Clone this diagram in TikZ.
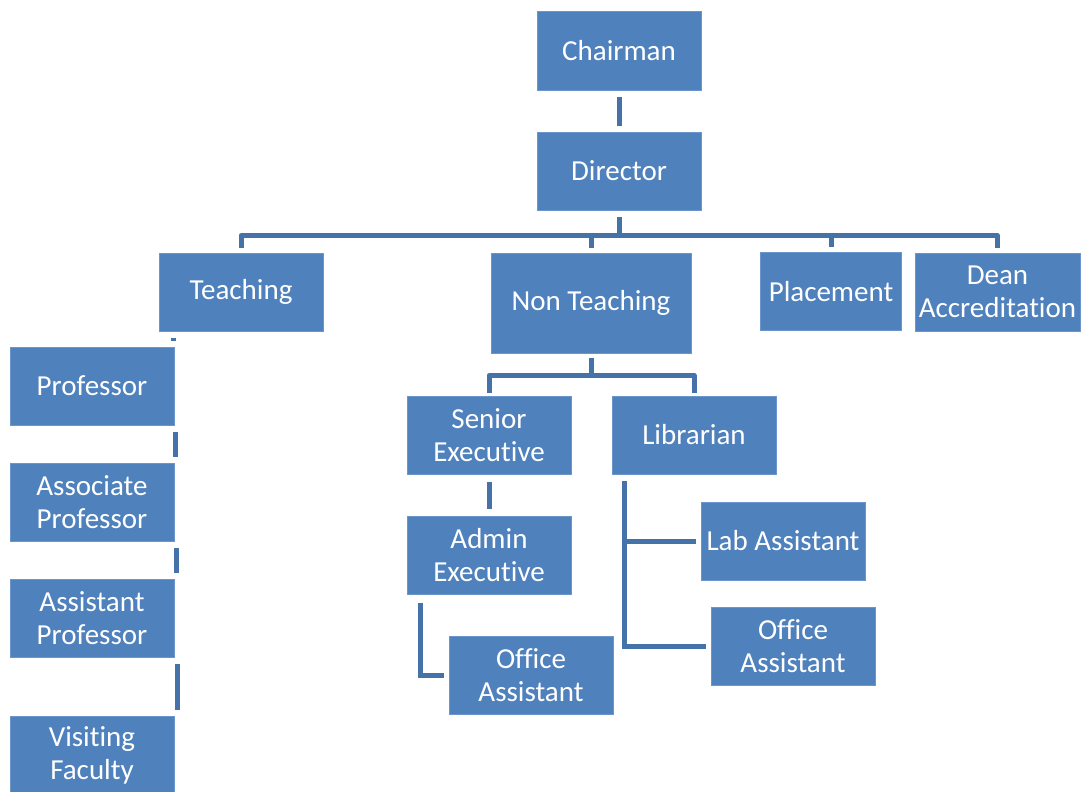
\documentclass[tikz,border=0pt]{standalone}
\usepackage{fontspec}
\setmainfont{Carlito}[Ligatures={NoCommon}]
\definecolor{boxblue}{HTML}{4F81BD}
\definecolor{boxedge}{HTML}{6B96CB}
\definecolor{linkblue}{HTML}{4672AA}
\tikzset{
  orgbox/.style={fill=boxblue, draw=boxedge, line width=1pt, text=white, align=center,
    minimum width=164pt, minimum height=78pt, inner sep=2pt,
    font=\fontsize{29}{33}\selectfont},
  conn/.style={draw=linkblue, line width=5pt},
}
\begin{document}
\begin{tikzpicture}[x=1pt,y=-1pt]
\useasboundingbox (0,0) rectangle (1081,792);
% boxes
\node[orgbox] (chair) at (619,51) {Chairman};
\node[orgbox] (dir) at (619,171) {Director};
\node[orgbox] (teach) at (241,292) {Teaching};
\node[orgbox, minimum width=200pt, minimum height=100pt] (nonteach) at (591,303) {Non Teaching};
\node[orgbox, minimum width=141pt] (place) at (831,291.5) {Placement};
\node[orgbox, minimum width=165pt] (dean) at (997.5,292) {Dean\\Accreditation};
\node[orgbox] (prof) at (92,386) {Professor};
\node[orgbox] (assoc) at (92,502) {Associate\\Professor};
\node[orgbox] (assist) at (92,618) {Assistant\\Professor};
\node[orgbox] (visit) at (92,755) {Visiting\\Faculty};
\node[orgbox] (senior) at (489,435) {Senior\\Executive};
\node[orgbox] (lib) at (694,435) {Librarian};
\node[orgbox] (admin) at (489,555) {Admin\\Executive};
\node[orgbox] (offa) at (531,675) {Office\\Assistant};
\node[orgbox] (lab) at (783,541) {Lab Assistant};
\node[orgbox] (offb) at (793,646) {Office\\Assistant};
% chairman - director
\draw[conn] ([shift={(0,6)}]chair.south) -- ([shift={(0,-6)}]dir.north);
% director bus
\coordinate (dbus) at ([shift={(0,25)}]dir.south);
\draw[conn] ([shift={(0,6)}]dir.south) -- (dbus);
\draw[conn, line join=round] ([shift={(0,-5)}]teach.north) |- (dbus) -| ([shift={(0,-5)}]dean.north);
\draw[conn] ([shift={(0,-5)}]nonteach.north) -- (nonteach.north |- dbus);
\draw[conn] ([shift={(0,-5)}]place.north) -- (place.north |- dbus);
% non teaching bus
\coordinate (nbus) at ([shift={(0,22)}]nonteach.south);
\draw[conn] ([shift={(0,4)}]nonteach.south) -- (nbus);
\draw[conn, line join=round] ([shift={(0,-3)}]senior.north) |- (nbus) -| ([shift={(0,-3)}]lib.north);
% senior - admin
\draw[conn] ([shift={(0,7)}]senior.south) -- ([shift={(0,-7)}]admin.north);
% admin - office assistant
\draw[conn] ([shift={(14,8)}]admin.south west) |- ([shift={(-5,0)}]offa.west);
% librarian branches
\coordinate (lt) at ([shift={(13,6)}]lib.south west);
\draw[conn] (lt) |- ([shift={(-5,0)}]offb.west);
\draw[conn] (lt |- lab.west) -- ([shift={(-5,0)}]lab.west);
% teaching column
\draw[conn] ([shift={(15,6)}]teach.south west) -- ([shift={(15,9)}]teach.south west);
\draw[conn] ([shift={(1,6)}]prof.south east) -- ([shift={(1,-6)}]assoc.north east);
\draw[conn] ([shift={(2,6)}]assoc.south east) -- ([shift={(2,-6)}]assist.north east);
\draw[conn] ([shift={(3,6)}]assist.south east) -- ([shift={(3,-6)}]visit.north east);
\end{tikzpicture}
\end{document}
